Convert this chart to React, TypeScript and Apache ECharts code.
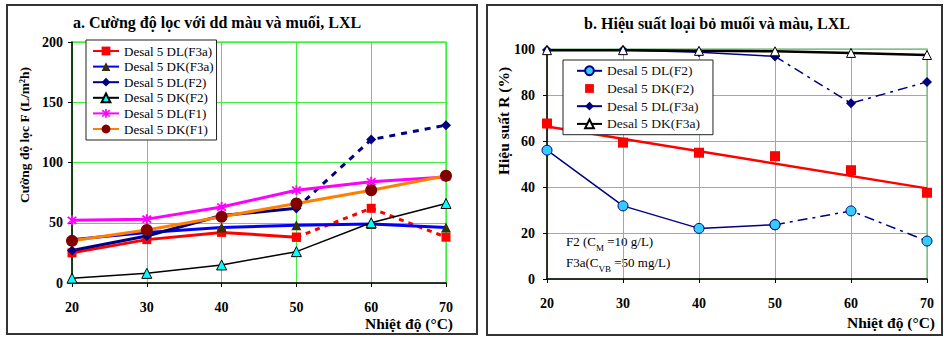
import React, { useEffect, useRef } from "react";
import * as echarts from "echarts";

// ---------- data ----------
const temps = [20, 30, 40, 50, 60, 70];
const flowTicks = [0, 50, 100, 150, 200];
const recTicks = [0, 20, 40, 60, 80, 100];

// Panel a: flux (L/m2h)
const flowDLF3a = [25, 36, 42, 38, 62, 38];
const flowDKF3a = [36, 42, 46, 48, 49, 46];
const flowDLF2 = [27, 39, 56, 62, 119, 131];
const flowDKF2 = [4, 8, 15, 26, 50, 66];
const flowDLF1 = [52, 53, 63, 77, 84, 88];
const flowDKF1 = [35, 44, 55, 66, 77, 89];

// Panel b: rejection R (%)
const recDLF2 = [56, 31.8, 22, 23.6, 29.6, 16.5];
const recDKF2 = [67.6, 59.3, 54.9, 53.4, 47.3, 37.5];
const recDKF2TrendX = [20, 70];
const recDKF2TrendY = [66.3, 39.4];
const recDLF3a = [99.6, 99.6, 98.6, 96.8, 76.4, 85.7];
const recDKF3a = [99.5, 99.5, 99.2, 99, 98.3, 97.4];

// ---------- helpers ----------
const serif = "'Liberation Serif', 'Times New Roman', serif";
const gridGreen = "#3cf03c";
const asterisk =
  "path://M-0.8,-5L0.8,-5L0.8,5L-0.8,5Z M-2.97,-4.11L4.11,2.97L2.97,4.11L-4.11,-2.97Z M-4.11,2.97L2.97,-4.11L4.11,-2.97L-2.97,4.11Z";

const pairs = (vals: number[]) => temps.map((t, i) => [t, vals[i]]);
const solidPart = (vals: number[]) => pairs(vals).slice(0, 4);
const dashPart = (vals: number[]) => pairs(vals).slice(3);

function text(x: number, y: number, t: string, size: number, opts: any = {}) {
  return {
    type: "text",
    x,
    y,
    rotation: opts.rotation || 0,
    style: {
      text: t,
      fontSize: size,
      fontFamily: serif,
      fontWeight: opts.weight || "bold",
      fill: "#000",
      align: opts.align || "center",
      textAlign: opts.align || "center",
      verticalAlign: "middle",
      textVerticalAlign: "middle",
    },
  };
}

function border(x: number, y: number, w: number, h: number) {
  return {
    type: "rect",
    shape: { x, y, width: w, height: h },
    style: { fill: "none", stroke: "#333", lineWidth: 2 },
    z: 100,
  };
}

function axisCommon(min: number, max: number, interval: number, margin: number) {
  return {
    type: "value",
    min,
    max,
    interval,
    axisLine: { show: true, lineStyle: { color: "#000", width: 1.5 } },
    axisTick: { show: true, length: 4, lineStyle: { color: "#000" } },
    axisLabel: {
      fontFamily: serif,
      fontWeight: "bold",
      fontSize: 14,
      color: "#000",
      margin,
    },
    splitLine: { show: true, lineStyle: { color: gridGreen, width: 1 } },
  };
}

function lineSeries(name: string, data: any[], color: string, width: number, symbol: string, size: number, item: any, dashed?: any) {
  return {
    type: "line",
    name,
    data,
    symbol,
    symbolSize: size,
    showAllSymbol: true,
    lineStyle: { color, width, type: dashed || "solid" },
    itemStyle: item,
    emphasis: { disabled: true },
  };
}

// ---------- chart a ----------
function optionA(): any {
  const sq = { color: "#ff0000" };
  const tri = { color: "#333300" };
  const dia = { color: "#000080" };
  const cyTri = { color: "#00ffff", borderColor: "#000", borderWidth: 1 };
  const ast = { color: "#ff00ff" };
  const circ = { color: "#800000" };
  const names = [
    "Desal 5 DL(F3a)",
    "Desal 5 DK(F3a)",
    "Desal 5 DL(F2)",
    "Desal 5 DK(F2)",
    "Desal 5 DL(F1)",
    "Desal 5 DK(F1)",
  ];
  return {
    animation: false,
    grid: {
      left: 72,
      top: 42,
      width: 374,
      height: 241,
      show: true,
      borderColor: "#8cc88c",
      borderWidth: 1.5,
      backgroundColor: "transparent",
    },
    xAxis: { ...axisCommon(temps[0], temps[temps.length - 1], 10, 17) },
    yAxis: { ...axisCommon(flowTicks[0], flowTicks[flowTicks.length - 1], 50, 9) },
    legend: {
      orient: "vertical",
      left: 86,
      top: 40,
      data: names,
      itemWidth: 26,
      itemHeight: 11,
      itemGap: 2.6,
      padding: [4.5, 3, 4.5, 6],
      backgroundColor: "#fff",
      borderColor: "#222",
      borderWidth: 1,
      borderRadius: 0,
      selectedMode: false,
      textStyle: { fontFamily: serif, fontSize: 13, color: "#000", lineHeight: 11 },
    },
    series: [
      lineSeries(names[0], solidPart(flowDLF3a), "#ff0000", 3, "rect", 9, sq),
      lineSeries(names[0], dashPart(flowDLF3a), "#ff0000", 3, "rect", 9, sq, [5, 5]),
      lineSeries(names[1], pairs(flowDKF3a), "#0000ff", 3, "triangle", 10, tri),
      lineSeries(names[2], solidPart(flowDLF2), "#000080", 3, "diamond", 10, dia),
      lineSeries(names[2], dashPart(flowDLF2), "#000080", 3, "diamond", 10, dia, [6, 6]),
      lineSeries(names[3], pairs(flowDKF2), "#000000", 1.5, "triangle", 10, cyTri),
      lineSeries(names[4], pairs(flowDLF1), "#ff00ff", 3, asterisk, 10, ast),
      lineSeries(names[5], pairs(flowDKF1), "#ff7f00", 3, "circle", 12, circ),
    ],
    graphic: [
      border(7, 5, 470, 329),
      text(217, 22, "a. Cường độ lọc với dd màu và muối, LXL", 16),
      text(24, 135, "Cường độ lọc F (L/m²h)", 13.5, { rotation: Math.PI / 2 }),
      text(453, 323, "Nhiệt độ (°C)", 15.5, { align: "right" }),
    ],
  };
}

// ---------- chart b ----------
function optionB(): any {
  const names = ["Desal 5 DL(F2)", "Desal 5 DK(F2)", "Desal 5 DL(F3a)", "Desal 5 DK(F3a)"];
  const dashDot = [10, 5, 3, 5];
  const circ = { color: "#33ccff", borderColor: "#000080", borderWidth: 1 };
  const dia = { color: "#000080" };
  const tri = { color: "#ffffff", borderColor: "#000", borderWidth: 1 };
  const rich = {
    a: { fontSize: 13, fontFamily: serif, color: "#000", lineHeight: 14, verticalAlign: "top" },
    s: { fontSize: 9, fontFamily: serif, color: "#000", lineHeight: 9, padding: [8, 0, 0, 0], verticalAlign: "top" },
  };
  return {
    animation: false,
    grid: {
      left: 65,
      top: 49,
      width: 380,
      height: 230,
      show: true,
      borderColor: "#8cc88c",
      borderWidth: 1.5,
      backgroundColor: "transparent",
    },
    xAxis: { ...axisCommon(temps[0], temps[temps.length - 1], 10, 17) },
    yAxis: { ...axisCommon(recTicks[0], recTicks[recTicks.length - 1], 20, 12) },
    legend: {
      orient: "vertical",
      left: 81,
      top: 60,
      data: names,
      itemWidth: 25,
      itemHeight: 11,
      itemGap: 3.7,
      padding: [3.8, 13, 3.8, 13],
      backgroundColor: "#fff",
      borderColor: "#222",
      borderWidth: 1,
      borderRadius: 0,
      selectedMode: false,
      textStyle: { fontFamily: serif, fontSize: 13.5, color: "#111", lineHeight: 11 },
    },
    series: [
      lineSeries(names[0], solidPart(recDLF2), "#000080", 1.5, "circle", 10, circ),
      lineSeries(names[0], dashPart(recDLF2), "#000080", 1.5, "circle", 10, circ, dashDot),
      {
        type: "line",
        name: names[1],
        data: pairs(recDKF2),
        symbol: "rect",
        symbolSize: 10,
        showAllSymbol: true,
        lineStyle: { width: 0, opacity: 0 },
        itemStyle: { color: "#ff0000" },
        emphasis: { disabled: true },
      },
      {
        type: "line",
        name: "trend",
        data: recDKF2TrendX.map((x, i) => [x, recDKF2TrendY[i]]),
        symbol: "none",
        lineStyle: { color: "#ff0000", width: 2.5 },
        emphasis: { disabled: true },
      },
      lineSeries(names[2], solidPart(recDLF3a), "#000080", 1.5, "diamond", 10, dia),
      lineSeries(names[2], dashPart(recDLF3a), "#000080", 1.5, "diamond", 10, dia, dashDot),
      lineSeries(names[3], pairs(recDKF3a), "#000000", 2.5, "triangle", 9, tri),
    ],
    graphic: [
      border(5, 5, 455, 330),
      text(235, 23, "b. Hiệu suất loại bỏ muối và màu, LXL", 16),
      text(21, 121, "Hiệu suất R (%)", 15.5, { rotation: Math.PI / 2 }),
      text(453, 322, "Nhiệt độ (°C)", 15.5, { align: "right" }),
      {
        type: "text",
        x: 84,
        y: 235,
        style: { text: "{a|F2 (C}{s|M}{a| =10 g/L)}", rich },
      },
      {
        type: "text",
        x: 84,
        y: 256,
        style: { text: "{a|F3a(C}{s|VB}{a| =50 mg/L)}", rich },
      },
    ],
  };
}

function Chart({ left, width, option }: { left: number; width: number; option: () => any }) {
  const ref = useRef<HTMLDivElement>(null);
  useEffect(() => {
    if (!ref.current) return;
    const chart = echarts.init(ref.current, undefined, { renderer: "svg" });
    chart.setOption(option());
    return () => chart.dispose();
  }, []);
  return (
    <div
      ref={ref}
      style={{ position: "absolute", left, top: 0, width, height: 338, background: "#fff" }}
    />
  );
}

export default function App() {
  return (
    <div style={{ position: "absolute", left: 0, top: 0, width: 944, height: 338, background: "#fff" }}>
      <Chart left={0} width={482} option={optionA} />
      <Chart left={482} width={462} option={optionB} />
    </div>
  );
}
